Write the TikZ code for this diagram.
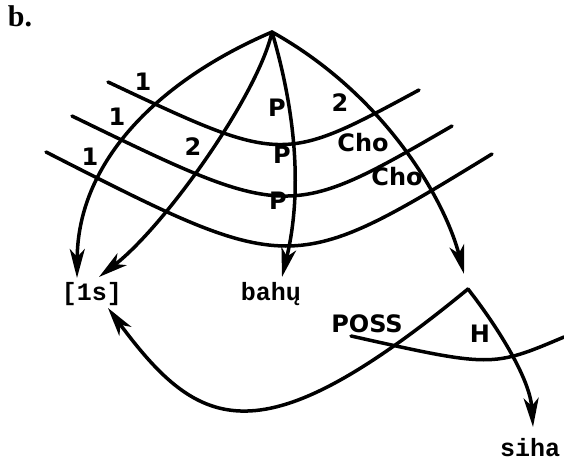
\documentclass[tikz,border=0pt]{standalone}
\usepackage{fontspec}
\setmainfont{Liberation Serif}
\setsansfont{DejaVu Sans}
\setmonofont{Liberation Mono}
\usetikzlibrary{arrows.meta}

\begin{document}
\begin{tikzpicture}[
  x=1pt, y=-1pt,
  >={Stealth[length=29pt, width=15pt, inset=8pt]},
  line width=3.5pt, line cap=round,
  lbl/.style={font=\fontsize{24}{24}\selectfont\sffamily\bfseries, inner sep=0pt},
  word/.style={font=\fontsize{25}{25}\selectfont\ttfamily\bfseries, inner sep=0pt, anchor=base}
]
\useasboundingbox (0,0) rectangle (564,462);

\node[font=\fontsize{30}{30}\selectfont\rmfamily\bfseries, inner sep=0pt] (tag) at (20,16) {b.};

% heads and words
\coordinate (top) at (272,32);
\coordinate (hd) at (468,289);
\node[word] (ls) at (92,300) {[1s]};
\node[word] (bahu) at (271,300) {bahų};
\node[word] (siha) at (530,456) {siha};

% arcs out of the top
\draw[->] (top) .. controls (160,80) and (78,160) .. ([shift={(-15,-22)}]ls.base);
\draw[->] (top) .. controls (258,95) and (165,226) .. ([shift={(7,-23)}]ls.base);
\draw[->] (top) .. controls (295,110) and (303,190) .. ([shift={(11,-23)}]bahu.base);
\draw[->] (top) .. controls (385,95) and (445,200) .. ([shift={(-4,-15)}]hd);

% strata
\draw (108,82) .. controls (282,164) .. (419,90);
\draw (72,116) .. controls (288,221) .. (452,126);
\draw (46,152) .. controls (291,277) .. (492,154);

% lower head
\draw[->] (hd) .. controls (260,460) and (200,432) .. ([shift={(16,8)}]ls.base);
\draw[->] (hd) .. controls (500,330) and (530,380) .. ([shift={(3,-29)}]siha.base);
\draw (351,336) .. controls (492,367.5) .. (564,337);

% arc labels
\node[lbl] (a1) at (143,82) {1};
\node[lbl] (b1) at (117,117) {1};
\node[lbl] (c1) at (90,157) {1};
\node[lbl] (ap) at (277,108) {P};
\node[lbl] (a2) at (340,103) {2};
\node[lbl] (b2) at (193,147) {2};
\node[lbl] (bp) at (282,155) {P};
\node[lbl] (bcho) at (363,143) {Cho};
\node[lbl] (cp) at (278,201) {P};
\node[lbl] (ccho) at (397,177) {Cho};
\node[lbl] (poss) at (367,324) {POSS};
\node[lbl] (h) at (480,334) {H};

\end{tikzpicture}
\end{document}
